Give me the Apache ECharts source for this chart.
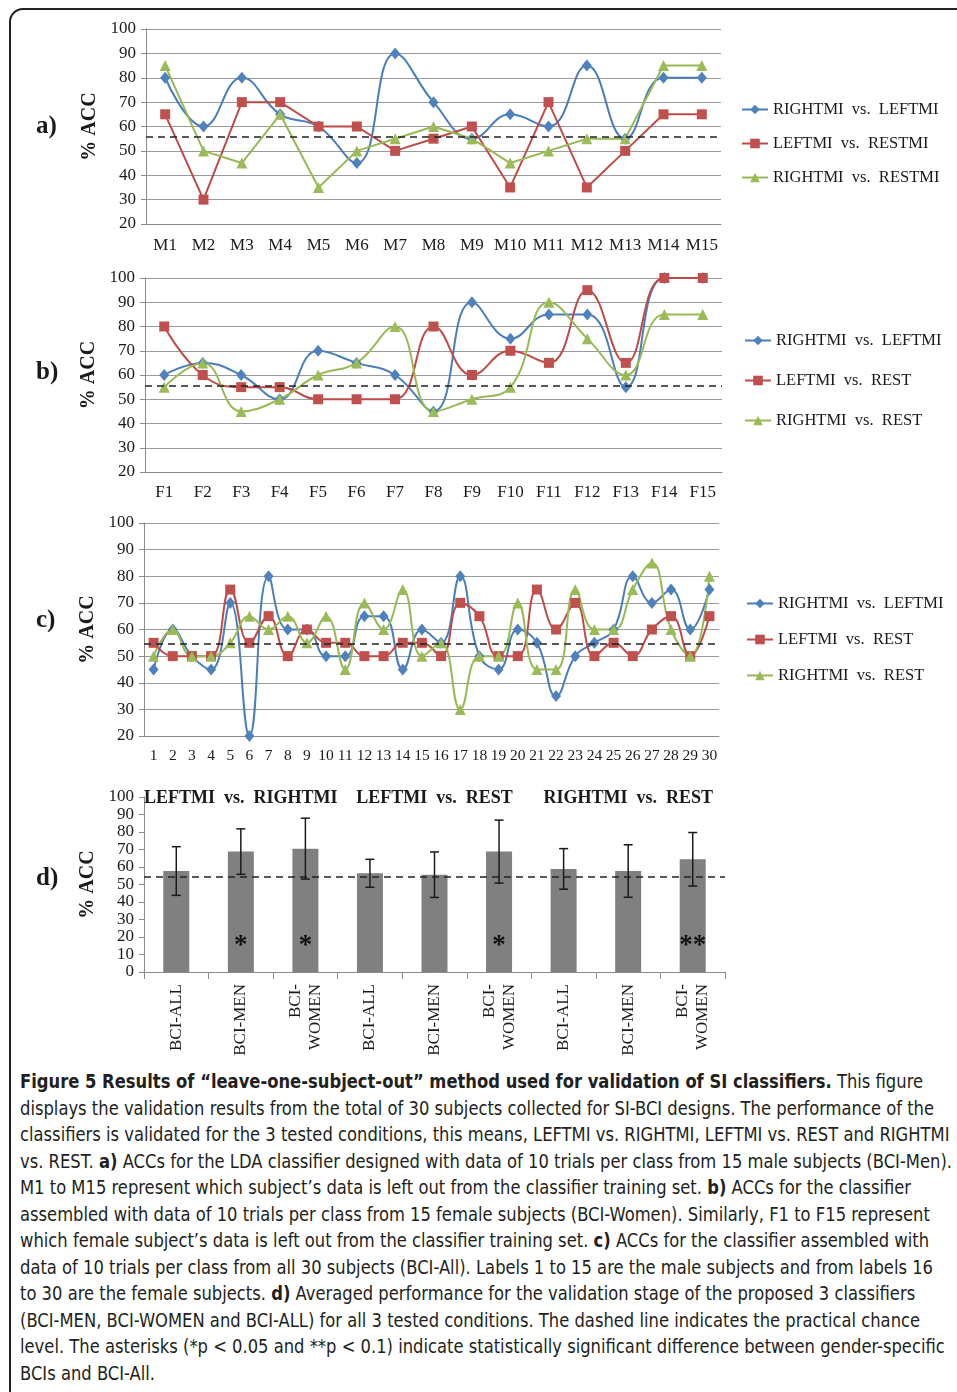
<!DOCTYPE html>
<html><head><meta charset="utf-8">
<script src="https://cdn.jsdelivr.net/npm/echarts@6/dist/echarts.min.js"></script>
<style>
html,body{margin:0;padding:0;background:#fff;width:957px;height:1392px;overflow:hidden;}
#frame{position:absolute;left:9px;top:8px;width:990px;height:1420px;border:2px solid #222;border-radius:14px;box-sizing:border-box;}
#chart{position:absolute;left:0;top:0;width:957px;height:1062px;}
#cap{position:absolute;left:20px;top:1068px;font-family:'DejaVu Sans Condensed','DejaVu Sans',sans-serif;font-stretch:condensed;font-size:19px;line-height:26.5px;color:#231f20;white-space:nowrap;transform-origin:0 0;}
#cap b{font-weight:bold;}
</style></head><body>
<div id="frame"></div>
<div id="chart"></div>
<div id="cap"><span class="ln"><b>Figure 5 Results of “leave-one-subject-out” method used for validation of SI classifiers.</b> This figure</span><br>
<span class="ln">displays the validation results from the total of 30 subjects collected for SI-BCI designs. The performance of the</span><br>
<span class="ln">classifiers is validated for the 3 tested conditions, this means, LEFTMI vs. RIGHTMI, LEFTMI vs. REST and RIGHTMI</span><br>
<span class="ln">vs. REST. <b>a)</b> ACCs for the LDA classifier designed with data of 10 trials per class from 15 male subjects (BCI-Men).</span><br>
<span class="ln">M1 to M15 represent which subject’s data is left out from the classifier training set. <b>b)</b> ACCs for the classifier</span><br>
<span class="ln">assembled with data of 10 trials per class from 15 female subjects (BCI-Women). Similarly, F1 to F15 represent</span><br>
<span class="ln">which female subject’s data is left out from the classifier training set. <b>c)</b> ACCs for the classifier assembled with</span><br>
<span class="ln">data of 10 trials per class from all 30 subjects (BCI-All). Labels 1 to 15 are the male subjects and from labels 16</span><br>
<span class="ln">to 30 are the female subjects. <b>d)</b> Averaged performance for the validation stage of the proposed 3 classifiers</span><br>
<span class="ln">(BCI-MEN, BCI-WOMEN and BCI-ALL) for all 3 tested conditions. The dashed line indicates the practical chance</span><br>
<span class="ln">level. The asterisks (*p &lt; 0.05 and **p &lt; 0.1) indicate statistically significant difference between gender-specific</span><br>
<span class="ln">BCIs and BCI-All.</span></div>
<script>
// ---------- DATA ----------
const catsA = ['M1','M2','M3','M4','M5','M6','M7','M8','M9','M10','M11','M12','M13','M14','M15'];
const namesA = ['RIGHTMI vs. LEFTMI','LEFTMI vs. RESTMI','RIGHTMI vs. RESTMI'];
const aRightLeft = [80,60,80,65,60,45,90,70,55,65,60,85,55,80,80];
const aLeftRest  = [65,30,70,70,60,60,50,55,60,35,70,35,50,65,65];
const aRightRest = [85,50,45,65,35,50,55,60,55,45,50,55,55,85,85];
const chanceA = 55.8;

const catsB = ['F1','F2','F3','F4','F5','F6','F7','F8','F9','F10','F11','F12','F13','F14','F15'];
const namesBC = ['RIGHTMI vs. LEFTMI','LEFTMI vs. REST','RIGHTMI vs. REST'];
const bRightLeft = [60,65,60,50,70,65,60,45,90,75,85,85,55,100,100];
const bLeftRest  = [80,60,55,55,50,50,50,80,60,70,65,95,65,100,100];
const bRightRest = [55,65,45,50,60,65,80,45,50,55,90,75,60,85,85];
const chanceB = 55.7;
const extraDashB = 106.2;

const catsC = ['1','2','3','4','5','6','7','8','9','10','11','12','13','14','15','16','17','18','19','20','21','22','23','24','25','26','27','28','29','30'];
const cRightLeft = [45,60,50,45,70,20,80,60,60,50,50,65,65,45,60,55,80,50,45,60,55,35,50,55,60,80,70,75,60,75];
const cLeftRest  = [55,50,50,50,75,55,65,50,60,55,55,50,50,55,55,50,70,65,50,50,75,60,70,50,55,50,60,65,50,65];
const cRightRest = [50,60,50,50,55,65,60,65,55,65,45,70,60,75,50,55,30,50,50,70,45,45,75,60,60,75,85,60,50,80];
const chanceC = 54.5;

const catsD = ['BCI-ALL','BCI-MEN','BCI-\nWOMEN','BCI-ALL','BCI-MEN','BCI-\nWOMEN','BCI-ALL','BCI-MEN','BCI-\nWOMEN'];
const groupsD = ['LEFTMI vs. RIGHTMI','LEFTMI vs. REST','RIGHTMI vs. REST'];
const meanD = [57.7,68.8,70.5,56.4,55.6,68.8,58.9,57.7,64.4];
const sdD   = [13.9,13.0,17.4,8.0,13.0,18.0,11.6,15.0,15.3];
const sigD  = ['','*','*','','','*','','','**'];
const chanceD = 54.3;

// ---------- STYLE ----------
const SERIF = "'Liberation Serif','Times New Roman',serif";
const BLUE = '#4A7EBB', RED = '#BE4B48', GREEN = '#98B954';
const MBLUE = '#4F81BD', MRED = '#C0504D', MGREEN = '#9BBB59';
const TXT = '#1a1a1a';

const grids = [
  {left:146, top:29, width:575, height:195},
  {left:145, top:278, width:577, height:194},
  {left:144, top:523, width:575, height:213},
  {left:144, top:797, width:581, height:175}
];

function catAxis(gi, data, fs, margin){
  return {type:'category', gridIndex:gi, data:data, boundaryGap:true,
    axisLine:{lineStyle:{color:'#8a8a8a', width:1}},
    axisTick:{show:false},
    axisLabel:{interval:0, fontFamily:SERIF, fontSize:fs, color:TXT, margin:margin},
    splitLine:{show:false}};
}
function valAxis(gi, min, max, grid){
  return {type:'value', gridIndex:gi, min:min, max:max, interval:10,
    name:'% ACC', nameLocation:'middle', nameGap:44,
    nameTextStyle:{fontFamily:SERIF, fontSize:20, fontWeight:'bold', color:TXT},
    axisLine:{show:true, lineStyle:{color:'#8a8a8a', width:1}},
    axisTick:{show:true, length:5, lineStyle:{color:'#8a8a8a'}},
    axisLabel:{fontFamily:SERIF, fontSize:17, color:TXT, margin:10},
    splitLine:{show:grid, lineStyle:{color:'#9a9a9a', width:1.2}}};
}
function dashed(values){
  return {silent:true, symbol:['none','none'], label:{show:false},
    lineStyle:{type:[7,5], color:'#222', width:1.6},
    data:values.map(v=>({yAxis:v}))};
}
function lineSeries(name, data, xi, color, mcolor, symbol, size, smooth, mark){
  const s = {type:'line', name:name, data:data, xAxisIndex:xi, yAxisIndex:xi,
    smooth:smooth, symbol:symbol, symbolSize:size, showSymbol:true,
    lineStyle:{color:color, width:2}, itemStyle:{color:mcolor},
    emphasis:{disabled:true}, animation:false, clip:false};
  if (mark) s.markLine = mark;
  return s;
}
function legend(names, left, top, gap){
  return {data:names, orient:'vertical', left:left, top:top, itemGap:gap,
    itemWidth:26, itemHeight:12, selectedMode:false,
    formatter:n=>n.replace(/ /g,'  '),
    textStyle:{fontFamily:SERIF, fontSize:16.5, color:TXT, lineHeight:16, padding:[0,0,0,0]}};
}

const SM = 0.45;
const option = {
  animation:false,
  grid: grids,
  legend:[
    legend(namesA, 736, 96, 17),
    legend(namesBC, 739, 327, 23),
    legend(namesBC, 741, 590, 19)
  ],
  xAxis:[
    catAxis(0, catsA, 17, 13),
    catAxis(1, catsB, 17, 12),
    catAxis(2, catsC, 15.5, 12),
    Object.assign(catAxis(3, catsD, 17, 12), {
      axisTick:{show:true, length:7, interval:0, lineStyle:{color:'#8a8a8a'}},
      axisLabel:{interval:0, rotate:90, fontFamily:SERIF, fontSize:17, lineHeight:20, color:TXT, margin:12}
    }),
    {type:'category', gridIndex:3, position:'top', data:groupsD,
      axisLine:{show:false}, axisTick:{show:false}, splitLine:{show:false},
      axisLabel:{interval:0, fontFamily:SERIF, fontSize:18, fontWeight:'bold', color:TXT, margin:-10,
        formatter:n=>n.replace(/ /g,'  ')}}
  ],
  yAxis:[
    valAxis(0, 20, 100, true),
    valAxis(1, 20, 100, true),
    valAxis(2, 20, 100, true),
    valAxis(3, 0, 100, false)
  ],
  series:[
    lineSeries(namesA[0], aRightLeft, 0, BLUE, MBLUE, 'diamond', [10,12], SM, dashed([chanceA])),
    lineSeries(namesA[1], aLeftRest, 0, RED, MRED, 'rect', 10, false),
    lineSeries(namesA[2], aRightRest, 0, GREEN, MGREEN, 'triangle', 11, false),

    lineSeries(namesBC[0], bRightLeft, 1, BLUE, MBLUE, 'diamond', [10,12], SM, dashed([chanceB, extraDashB])),
    lineSeries(namesBC[1], bLeftRest, 1, RED, MRED, 'rect', 10, SM),
    lineSeries(namesBC[2], bRightRest, 1, GREEN, MGREEN, 'triangle', 11, SM),

    lineSeries(namesBC[0], cRightLeft, 2, BLUE, MBLUE, 'diamond', [10,12], SM, dashed([chanceC])),
    lineSeries(namesBC[1], cLeftRest, 2, RED, MRED, 'rect', 10, SM),
    lineSeries(namesBC[2], cRightRest, 2, GREEN, MGREEN, 'triangle', 11, SM),

    {type:'bar', name:'mean', data:meanD, xAxisIndex:3, yAxisIndex:3, barWidth:26,
      itemStyle:{color:'#808080'}, emphasis:{disabled:true},
      label:{show:true, position:'insideBottom', distance:12, formatter:p=>sigD[p.dataIndex],
        fontFamily:SERIF, fontSize:27, fontWeight:'bold', color:'#111'},
      markLine:dashed([chanceD]), z:2},
    {type:'custom', name:'sd', xAxisIndex:3, yAxisIndex:3, z:5,
      data: meanD.map((m,i)=>[i, m+sdD[i], m-sdD[i]]),
      encode:{x:0, y:[1,2]},
      renderItem:function(params, api){
        const x = api.value(0);
        const t = api.coord([x, api.value(1)]);
        const b = api.coord([x, api.value(2)]);
        const hw = 4.5;
        const st = {stroke:'#1a1a1a', lineWidth:1.5};
        return {type:'group', children:[
          {type:'line', shape:{x1:t[0], y1:t[1], x2:b[0], y2:b[1]}, style:st},
          {type:'line', shape:{x1:t[0]-hw, y1:t[1], x2:t[0]+hw, y2:t[1]}, style:st},
          {type:'line', shape:{x1:b[0]-hw, y1:b[1], x2:b[0]+hw, y2:b[1]}, style:st}
        ]};
      }}
  ],
  graphic:[
    {type:'text', left:36, top:114, style:{text:'a)', font:"bold 25px 'Liberation Serif'", fill:TXT}},
    {type:'text', left:36, top:360, style:{text:'b)', font:"bold 25px 'Liberation Serif'", fill:TXT}},
    {type:'text', left:36, top:608, style:{text:'c)', font:"bold 25px 'Liberation Serif'", fill:TXT}},
    {type:'text', left:36, top:866, style:{text:'d)', font:"bold 25px 'Liberation Serif'", fill:TXT}}
  ]
};

const chart = echarts.init(document.getElementById('chart'), null, {renderer:'canvas'});
chart.setOption(option);

// fit caption lines to the reference text width
const cap = document.getElementById('cap');
let maxW = 0;
cap.querySelectorAll('.ln').forEach(s=>{ maxW = Math.max(maxW, s.getBoundingClientRect().width); });
const sc = 932 / maxW;
cap.style.transform = 'scaleX(' + sc + ')';
</script>
</body></html>
